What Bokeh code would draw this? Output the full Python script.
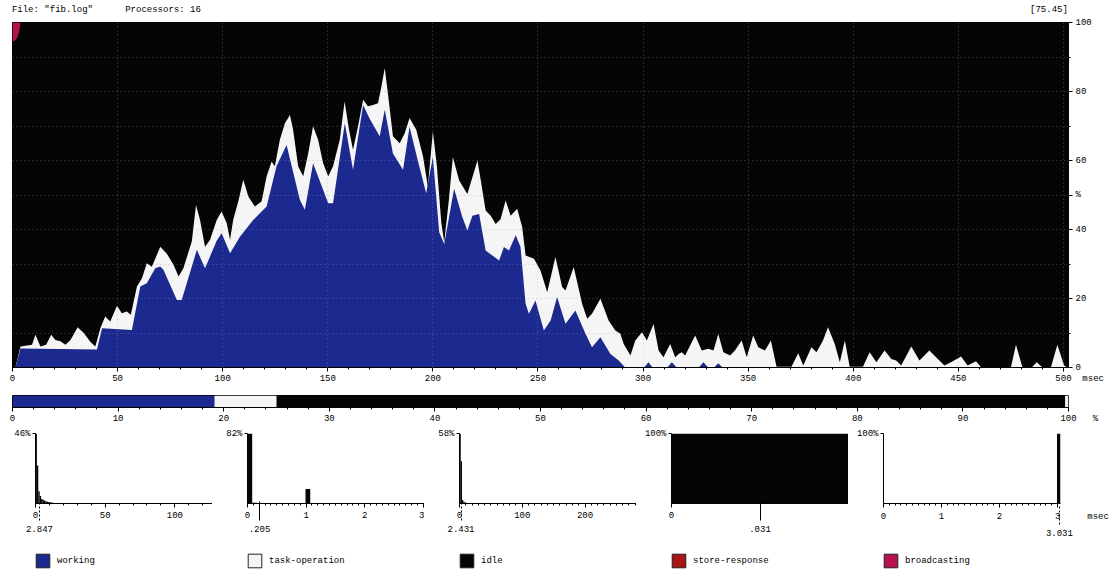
from bokeh.plotting import figure
from bokeh.models import (ColumnDataSource, Range1d, LinearAxis, FixedTicker,
                          SingleIntervalTicker, Legend, LegendItem)
from bokeh.core.properties import value
from bokeh.layouts import column, row
from bokeh.embed import file_html
from bokeh.resources import INLINE

FONT = "Liberation Mono"
FS = "9px"
BLUE = "#1c2a8f"
WHITE = "#f5f5f5"
BLACK = "#050505"
RED = "#a81515"
CRIMSON = "#b5124f"
NB = "\u00a0"

# ---------------- data ----------------
header_file = 'File: "fib.log"'
header_procs = "Processors: 16"
header_value = "[75.45]"

# top of (working + task-operation), percent of processors, vs msec
busy_t = [0, 1.4, 3.8, 9.3, 10.9, 13.3, 16, 18.4, 20.4, 22.8, 25.2, 27.6, 31.0, 33.9, 37.0, 39.4,
          41.8, 44.1, 46.5, 49.7, 52.0, 54.4, 56.3, 59.2, 61.6, 63.9, 66.3, 70.3, 73.4, 76.6,
          79.0, 81.3, 85.3, 87.3, 89.2, 91.6, 94.0, 97.2, 99.5, 101.9, 103.5, 105.0, 107.4,
          109.8, 112.2, 115.3, 118.5, 120.9, 123.3, 124.8, 127.2, 129.6, 132.0, 133.5, 135.9,
          138.3, 140.7, 143.0, 145.4, 147.8, 150.2, 152.5, 155.7, 158.0, 160.1, 162.0, 164.4,
          166.8, 169.1, 171.5, 173.9, 175.5, 177.1, 178.6, 181.0, 184.2, 186.6, 188.9, 192.1,
          195.3, 197.6, 200.0, 201.9, 204.0, 205.4, 207.5, 209.5, 212.5, 216.4, 221.2, 222.8,
          225.1, 227.5, 229.9, 232.2, 234.6, 237.0, 240.1, 242.5, 244.1, 248.1, 251.2, 254.4,
          258.3, 261.5, 263.1, 267.0, 271.0, 273.4, 275.7, 279.7, 283.6, 286.8, 289.2, 290.8,
          294.0, 296.3, 299.5, 301.8, 305.0, 307.4, 309.7, 312.9, 315.3, 316.9, 318.4, 320.0,
          324.8, 327.9, 331.1, 333.5, 335.8, 338.2, 341.4, 343.7, 346.9, 349.3, 352.4, 354.8,
          358.0, 360.8, 363.5, 370.6, 373.8, 376.2, 380.1, 382.5, 385.6, 388.0, 391.2, 393.6,
          396.0, 398.3, 404.6, 407.8, 411.0, 414.9, 418.1, 420.4, 422.8, 427.6, 431.5, 436.2,
          439.4, 443.4, 446.5, 451.3, 454.4, 458.4, 460.8, 475.0, 477.4, 480.5, 485.0, 487.3,
          490.0, 494.0, 497.1, 500.3, 502.0]
busy_v = [0, 0, 6.1, 6.6, 9.5, 6.1, 6.6, 9.5, 8.0, 7.6, 6.6, 8.0, 11.7, 10.0, 7.5, 6.1,
          11.4, 14.8, 13.3, 17.9, 15.7, 16.2, 15.3, 23.5, 25.9, 30.2, 29.2, 35.0, 33.0, 29.8,
          26.4, 28.8, 36.5, 47.1, 42.8, 35.0, 37.0, 42.8, 45.2, 41.8, 37.0, 42.8, 48.1,
          54.4, 49.6, 46.7, 48.1, 55.4, 59.7, 58.3, 66.0, 70.8, 73.2, 68.9, 58.3,
          55.4, 62.1, 69.9, 66.0, 59.2, 55.4, 58.3, 66.0, 77.1, 68.9, 63.1, 69.9,
          77.6, 75.7, 76.1, 76.6, 81.4, 86.8, 79.5, 67.0, 65.0, 67.9, 72.3, 68.9,
          61.2, 52.5, 68.4, 58.3, 42.0, 36.3, 48.0, 61.0, 54.2, 50.3, 60.0, 54.2,
          45.5, 44.0, 41.6, 43.0, 48.4, 44.0, 46.0, 40.7, 32.5, 31.5, 28.1, 21.8,
          32.0, 23.3, 22.3, 29.1, 18.5, 14.1, 15.6, 19.9, 13.6, 10.7, 9.8, 6.8,
          3.5, 7.8, 10.2, 7.8, 12.6, 4.9, 3.0, 6.8, 3.0, 3.9, 4.4, 3.5,
          9.3, 4.9, 5.4, 4.9, 9.7, 4.4, 3.5, 4.9, 7.8, 3.0, 9.3, 5.9,
          4.9, 7.8, 0.2, 0.2, 4.1, 0.6, 5.9, 4.4, 7.8, 11.7, 6.8, 1.5,
          7.8, 0.2, 0.2, 4.4, 1.5, 4.9, 2.5, 2.0, 0.6, 6.1, 2.0, 4.9,
          3.0, 0.6, 1.5, 3.2, 0.6, 1.8, 0.1, 0.1, 6.6, 0.1, 0.1, 1.5,
          0.0, 0.0, 6.6, 0.6, 0.0]

# top of working, percent of processors, vs msec
work_t = [0, 1.4, 3.8, 40.2, 42.6, 56.8, 60.8, 63.9, 67.9, 70.3, 71.8, 78.2, 80.5, 87.7, 91.6,
          97.2, 99.5, 103.5, 108.2, 114.6, 120.9, 125.6, 130.4, 136.7, 139.1, 143.0, 150.2,
          152.5, 158.1, 162.0, 166.8, 170.0, 174.7, 177.1, 181.0, 185.8, 188.9, 192.0, 196.8,
          200.0, 203.0, 205.4, 210.1, 214.0, 216.4, 218.8, 222.0, 225.1, 228.3, 231.5, 233.8,
          236.2, 239.4, 241.7, 244.1, 245.7, 248.8, 252.8, 256.0, 259.1, 263.1, 267.8, 272.6,
          275.7, 279.7, 284.4, 288.4, 291.5, 300.5, 302.6, 304.5, 311.5, 313.7, 316.0, 326.5,
          328.7, 331.0, 333.8, 335.8, 337.8, 502.0]
work_v = [0, 0, 5.5, 5.2, 11.4, 10.9, 23.5, 24.4, 28.8, 29.3, 28.3, 19.6, 19.6, 34.1, 28.8,
          36.8, 38.9, 33.1, 37.9, 42.8, 46.7, 58.3, 64.5, 48.6, 45.7, 59.2, 47.6,
          47.6, 70.8, 57.3, 76.1, 72.0, 67.0, 74.7, 62.0, 57.3, 69.8, 62.0, 50.5,
          61.0, 39.2, 35.8, 51.8, 43.6, 39.7, 44.0, 44.5, 33.9, 32.5, 31.0, 34.9,
          33.9, 38.3, 34.9, 18.5, 15.6, 19.4, 10.7, 13.6, 20.4, 12.7, 16.5, 9.8,
          5.9, 8.8, 4.0, 2.0, 0.0, 0.0, 1.5, 0.0, 0.0, 1.5, 0.0, 0.0,
          1.5, 0.0, 0.0, 1.2, 0.0, 0.0]

# broadcasting, percent of processors (drawn from the top), vs msec
bcast_t = [0, 1.0, 2.2, 3.2, 3.8]
bcast_v = [5.5, 5.3, 4.5, 2.5, 0.0]

# overall share of time per state, percent
share_names = ["working", "task-operation", "idle", "other"]
share_pct = [19.15, 5.85, 74.7, 0.3]

# duration histograms: bin edges (msec) and percent per bin
work_edges = list(range(0, 21))
work_pct = [46, 25, 8, 5, 3, 2.5, 2, 1.5, 1.2, 1, 0.8, 0.6, 0.5, 0.4, 0.4, 0.3, 0.3, 0.2, 0.2, 0.2]
task_left = [0.0, 0.08, 0.99]
task_right = [0.08, 0.16, 1.07]
task_pct = [82, 1, 17]
idle_edges = [0, 2, 4, 6, 8, 10, 14, 20, 40]
idle_pct = [58, 35, 3, 1.5, 1, 0.5, 0.3, 0.2]
store_left = [0.0]
store_right = [0.062]
store_pct = [100]
bcast_left = [2.99]
bcast_right = [3.05]
bcast_pct = [100]

means = {"working": 2.847, "task-operation": 0.205, "idle": 2.431,
         "store-response": 0.031, "broadcasting": 3.031}
mean_text = {"working": "2.847", "task-operation": ".205", "idle": "2.431",
             "store-response": ".031", "broadcasting": "3.031"}


def style_axis(ax, tick_out=4, minor_out=2, standoff=2):
    ax.major_label_text_font = FONT
    ax.major_label_text_font_size = FS
    ax.major_label_text_color = "black"
    ax.axis_line_color = "black"
    ax.major_tick_line_color = "black"
    ax.minor_tick_line_color = "black"
    ax.major_tick_in = 0
    ax.major_tick_out = tick_out
    ax.minor_tick_in = 0
    ax.minor_tick_out = minor_out
    ax.major_label_standoff = standoff


# ---------------- main utilisation chart ----------------
p = figure(width=1118, height=388, x_range=Range1d(0, 502.4), y_range=Range1d(0, 100),
           output_backend="svg", toolbar_location=None, y_axis_location="right",
           min_border_left=12, min_border_right=47, min_border_top=22, min_border_bottom=21)
p.background_fill_color = BLACK
p.border_fill_color = "white"
p.outline_line_color = "black"

p.varea(x=busy_t, y1=[0] * len(busy_t), y2=busy_v, fill_color=WHITE)
p.varea(x=work_t, y1=[0] * len(work_t), y2=work_v, fill_color=BLUE)
p.varea(x=bcast_t, y1=[100 - v for v in bcast_v], y2=[100] * len(bcast_t), fill_color=CRIMSON)

p.xaxis.ticker = SingleIntervalTicker(interval=50, num_minor_ticks=5)
style_axis(p.xaxis[0])
p.xaxis.major_label_overrides = {500: NB * 6 + "500" + NB * 2 + "msec"}
p.yaxis.ticker = FixedTicker(ticks=[0, 20, 40, 50, 60, 80, 100], minor_ticks=[10, 30, 70, 90])
p.yaxis.major_label_overrides = {50: "%"}
style_axis(p.yaxis[0], standoff=3)

p.ygrid.ticker = SingleIntervalTicker(interval=10)
for g in (p.xgrid[0], p.ygrid[0]):
    g.grid_line_color = "#9a9ac8"
    g.grid_line_alpha = 0.45
    g.grid_line_dash = "1 3"
    g.level = "overlay"

# header texts placed as labels of a bare axis above the chart
hdr = LinearAxis(ticker=FixedTicker(ticks=[19.0, 71.6, 493.1]),
                 major_label_overrides={19.0: header_file, 71.6: header_procs,
                                        493.1: header_value})
style_axis(hdr, tick_out=0, minor_out=0, standoff=8)
hdr.axis_line_color = None
hdr.major_tick_line_color = None
hdr.minor_tick_line_color = None
p.add_layout(hdr, "above")

# ---------------- overall share bar ----------------
pb = figure(width=1118, height=38, x_range=Range1d(0, 100), y_range=Range1d(0, 1),
            output_backend="svg", toolbar_location=None, y_axis_location=None,
            min_border_left=12, min_border_right=50, min_border_top=7, min_border_bottom=18)
pb.border_fill_color = "white"
pb.outline_line_color = "black"
pb.grid.visible = False
lefts, rights, acc = [], [], 0.0
for s in share_pct:
    lefts.append(acc)
    acc += s
    rights.append(acc)
pb.hbar(y=[0.5] * len(share_pct), height=1, left=lefts, right=rights,
        fill_color=[BLUE, WHITE, BLACK, WHITE], line_color=None)
pb.xaxis.ticker = SingleIntervalTicker(interval=10, num_minor_ticks=5)
style_axis(pb.xaxis[0])
pb.xaxis.major_label_overrides = {100: NB * 4 + "100" + NB * 3 + "%"}


# ---------------- duration histograms ----------------
def hist(name, left, right, pct, xmax, ymax, ticker, dash, width, rb, overrides=None):
    f = figure(width=width, height=113, x_range=Range1d(0, xmax), y_range=Range1d(0, ymax),
               output_backend="svg", toolbar_location=None,
               min_border_left=35, min_border_right=rb, min_border_top=7, min_border_bottom=36)
    f.border_fill_color = "white"
    f.background_fill_color = "white"
    f.outline_line_color = None
    f.grid.visible = False
    f.quad(left=left, right=right, bottom=[0] * len(pct), top=pct,
           fill_color=BLACK, line_color=None)
    f.xaxis.ticker = ticker
    style_axis(f.xaxis[0], standoff=4)
    if overrides:
        f.xaxis.major_label_overrides = overrides
    f.yaxis.ticker = FixedTicker(ticks=[ymax])
    f.yaxis.major_label_overrides = {ymax: "%d%%" % ymax}
    style_axis(f.yaxis[0], tick_out=3)

    m = LinearAxis(ticker=FixedTicker(ticks=[means[name]]),
                   major_label_overrides={means[name]: mean_text[name]})
    style_axis(m, tick_out=0, standoff=5)
    m.axis_line_color = None
    m.major_tick_in = 19
    m.major_tick_line_dash = dash
    f.add_layout(m, "below")
    return f


def legend_fig(name, color, width):
    f = figure(width=width, height=34, x_range=Range1d(0, 1), y_range=Range1d(0, 1),
               output_backend="svg", toolbar_location=None,
               x_axis_location=None, y_axis_location=None,
               min_border_left=34, min_border_right=0, min_border_top=13, min_border_bottom=0)
    f.border_fill_color = "white"
    f.background_fill_color = "white"
    f.outline_line_color = None
    f.grid.visible = False
    # swatch renderer: one quad kept outside the visible range, used only by the legend
    swatch = ColumnDataSource(dict(left=[2], right=[3], top=[3], bottom=[2]))
    r = f.quad(left="left", right="right", top="top", bottom="bottom", source=swatch,
               fill_color=color, line_color="#222222")
    leg = Legend(items=[LegendItem(label=value(name), renderers=[r])], location="top_left",
                 orientation="horizontal", margin=0, padding=0, glyph_width=17,
                 glyph_height=17, label_height=17, label_standoff=6,
                 label_text_font=FONT, label_text_font_size=FS, label_text_color="black",
                 background_fill_alpha=0, border_line_color=None)
    f.add_layout(leg)
    return f


h1 = hist("working", work_edges[:-1], work_edges[1:], work_pct, 127, 46,
          SingleIntervalTicker(interval=50, num_minor_ticks=5), "2 2", 212, 0)
h2 = hist("task-operation", task_left, task_right, task_pct, 3.02, 82,
          SingleIntervalTicker(interval=1, num_minor_ticks=10), "solid", 212, 0)
h3 = hist("idle", idle_edges[:-1], idle_edges[1:], idle_pct, 282, 58,
          SingleIntervalTicker(interval=100, num_minor_ticks=10), "2 2", 212, 0)
h4 = hist("store-response", store_left, store_right, store_pct, 0.062, 100,
          FixedTicker(ticks=[0]), "solid", 212, 0)
h5 = hist("broadcasting", bcast_left, bcast_right, bcast_pct, 3.05, 100,
          SingleIntervalTicker(interval=1, num_minor_ticks=10), "2 2", 270, 58,
          overrides={3: NB * 9 + "3" + NB * 5 + "msec"})

l1 = legend_fig("working", BLUE, 212)
l2 = legend_fig("task-operation", WHITE, 212)
l3 = legend_fig("idle", BLACK, 212)
l4 = legend_fig("store-response", RED, 212)
l5 = legend_fig("broadcasting", CRIMSON, 270)

layout = column(p, pb, row(h1, h2, h3, h4, h5, spacing=0),
                row(l1, l2, l3, l4, l5, spacing=0), spacing=0)
open("out.html", "w").write(file_html(layout, INLINE))
